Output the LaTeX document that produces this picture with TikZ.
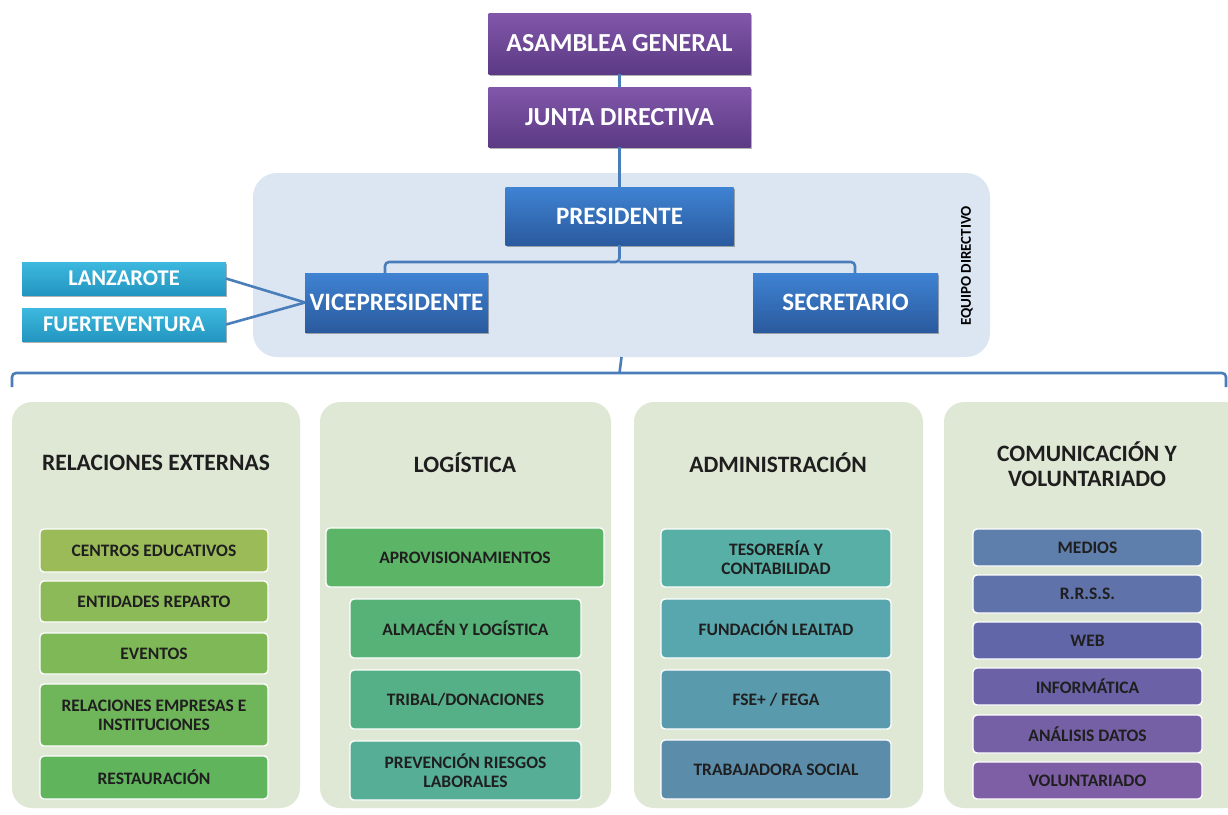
\documentclass[tikz,border=0pt]{standalone}
\usepackage{fontspec}
\setmainfont{Carlito}
\usetikzlibrary{shadows}
\definecolor{lineblue}{HTML}{4A7EBB}
\definecolor{ptop}{HTML}{8157AA}
\definecolor{pbot}{HTML}{5C3A84}
\definecolor{btop}{HTML}{3F83D3}
\definecolor{bbot}{HTML}{2A5A9E}
\definecolor{ctop}{HTML}{3DB8DF}
\definecolor{cbot}{HTML}{2396C0}
\definecolor{eqbg}{HTML}{DCE6F2}
\definecolor{panelbg}{HTML}{DFE7D5}
\definecolor{ttl}{HTML}{1E1E1E}
\definecolor{ca}{HTML}{9BBB59}
\definecolor{cb}{HTML}{8DBA58}
\definecolor{cc}{HTML}{7EB857}
\definecolor{cd}{HTML}{6FB65A}
\definecolor{ce}{HTML}{5FB45C}
\definecolor{cf}{HTML}{5CB466}
\definecolor{cg}{HTML}{57B277}
\definecolor{ch}{HTML}{55B087}
\definecolor{ci}{HTML}{56AE97}
\definecolor{cj}{HTML}{58AFA6}
\definecolor{ck}{HTML}{58A7AE}
\definecolor{cl}{HTML}{599BAD}
\definecolor{cm}{HTML}{5B8DAB}
\definecolor{cn}{HTML}{5E7EAB}
\definecolor{co}{HTML}{5F72AA}
\definecolor{cp}{HTML}{6166A8}
\definecolor{cq}{HTML}{6A61A7}
\definecolor{cr}{HTML}{7560A6}
\definecolor{cs}{HTML}{7E5FA5}
\tikzset{
  base/.style={rectangle, inner sep=0pt, outer sep=0pt, align=center},
  shad/.style={drop shadow={shadow xshift=1.2pt, shadow yshift=-1.8pt, opacity=0.3, fill=black}},
  purplebox/.style={base, shad, top color=ptop, bottom color=pbot, text=white, font=\bfseries\fontsize{26}{28}\selectfont},
  bluebox/.style={base, shad, top color=btop, bottom color=bbot, text=white, font=\bfseries\fontsize{25}{27}\selectfont},
  cyanbox/.style={base, shad, top color=ctop, bottom color=cbot, text=white, font=\bfseries\fontsize{22.5}{24}\selectfont},
  conn/.style={draw=lineblue, line width=2.6pt, rounded corners=4pt},
  panel/.style={base, fill=panelbg, rounded corners=20pt},
  ptitle/.style={base, text=ttl, font=\bfseries\fontsize{23.5}{25}\selectfont},
  item/.style={base, fill=#1, draw=white, line width=1.4pt, rounded corners=4pt, text=black!88, font=\bfseries\fontsize{17.5}{19}\selectfont},
}
\begin{document}
\begin{tikzpicture}[x=1pt,y=-1pt]
\clip (0,0) rectangle (1228,814);
\fill[white] (0,0) rectangle (1228,814);

% equipo directivo container
\node[base, fill=eqbg, rounded corners=24pt, minimum width=737, minimum height=184] (equipo) at (621.5,265) {};
\node[base, rotate=90, text=black, font=\bfseries\fontsize{15}{16}\selectfont] (eqlabel) at (967,266) {EQUIPO DIRECTIVO};

% top boxes
\node[purplebox, minimum width=262, minimum height=61] (asamblea) at (619.5,43.5) {ASAMBLEA GENERAL};
\node[purplebox, minimum width=262, minimum height=60] (junta) at (619.5,117) {JUNTA DIRECTIVA};
\node[bluebox, minimum width=228, minimum height=58] (presidente) at (619.5,216) {PRESIDENTE};
\node[bluebox, minimum width=183, minimum height=59] (vice) at (396.5,302.5) {VICEPRESIDENTE};
\node[bluebox, minimum width=185, minimum height=59] (secretario) at (845.5,302.5) {SECRETARIO};
\node[cyanbox, minimum width=204, minimum height=33] (lanzarote) at (124,278.5) {LANZAROTE};
\node[cyanbox, minimum width=204, minimum height=33] (fuerte) at (124,324.5) {FUERTEVENTURA};

% connectors
\coordinate (bus) at (619.5,262);
\coordinate (bus2) at (619.5,373);
\coordinate (bl) at (12,387);
\coordinate (br) at (1226,387);
\draw[conn] (asamblea.south) -- (junta.north);
\draw[conn] (junta.south) -- (presidente.north);
\draw[conn] (presidente.south) -- (bus) -| ([xshift=-11.5pt]vice.north);
\draw[conn] (bus) -| ([xshift=9.5pt]secretario.north);
\draw[conn] (lanzarote.east) -- (vice.west);
\draw[conn] (fuerte.east) -- (vice.west);
\draw[conn] (equipo.south) -- (bus2);
\draw[conn] (bl) |- (bus2) -| (br);

% panels
\node[panel, minimum width=288, minimum height=406] (p1) at (156,605) {};
\node[panel, minimum width=291, minimum height=406] (p2) at (465.5,605) {};
\node[panel, minimum width=289, minimum height=406] (p3) at (778.5,605) {};
\node[panel, minimum width=300, minimum height=406] (p4) at (1094,605) {};

\node[ptitle] (t1) at (156,463) {RELACIONES EXTERNAS};
\node[ptitle] (t2) at (465,463) {LOGÍSTICA};
\node[ptitle] (t3) at (778,463) {ADMINISTRACIÓN};
\node[ptitle] (t4) at (1087,464) {COMUNICACIÓN Y\\VOLUNTARIADO};

% panel 1 items
\node[item=ca, minimum width=228, minimum height=43] (cen) at (154,550.5) {CENTROS EDUCATIVOS};
\node[item=cb, minimum width=228, minimum height=41] (ent) at (154,601.5) {ENTIDADES REPARTO};
\node[item=cc, minimum width=228, minimum height=41] (eve) at (154,653.5) {EVENTOS};
\node[item=cd, minimum width=228, minimum height=62] (rel) at (154,715) {RELACIONES EMPRESAS E\\INSTITUCIONES};
\node[item=ce, minimum width=228, minimum height=43] (res) at (154,777.5) {RESTAURACIÓN};

% panel 2 items
\node[item=cf, minimum width=278, minimum height=59] (apr) at (465,557.5) {APROVISIONAMIENTOS};
\node[item=cg, minimum width=231, minimum height=59] (alm) at (465.5,628.5) {ALMACÉN Y LOGÍSTICA};
\node[item=ch, minimum width=231, minimum height=59] (tri) at (465.5,699.5) {TRIBAL/DONACIONES};
\node[item=ci, minimum width=231, minimum height=59] (pre) at (465.5,770.5) {PREVENCIÓN RIESGOS\\LABORALES};

% panel 3 items
\node[item=cj, minimum width=230, minimum height=58] (tes) at (776,558) {TESORERÍA Y\\CONTABILIDAD};
\node[item=ck, minimum width=230, minimum height=59] (fun) at (776,628.5) {FUNDACIÓN LEALTAD};
\node[item=cl, minimum width=230, minimum height=59] (fse) at (776,699.5) {FSE+ / FEGA};
\node[item=cm, minimum width=230, minimum height=59] (tra) at (776,769.5) {TRABAJADORA SOCIAL};

% panel 4 items
\node[item=cn, minimum width=229, minimum height=37] (med) at (1087.5,547.5) {MEDIOS};
\node[item=co, minimum width=229, minimum height=38] (rrss) at (1087.5,594) {R.R.S.S.};
\node[item=cp, minimum width=229, minimum height=37] (web) at (1087.5,640.5) {WEB};
\node[item=cq, minimum width=229, minimum height=37] (inf) at (1087.5,686.5) {INFORMÁTICA};
\node[item=cr, minimum width=229, minimum height=38] (ana) at (1087.5,734) {ANÁLISIS DATOS};
\node[item=cs, minimum width=229, minimum height=37] (vol) at (1087.5,780.5) {VOLUNTARIADO};
\end{tikzpicture}
\end{document}
